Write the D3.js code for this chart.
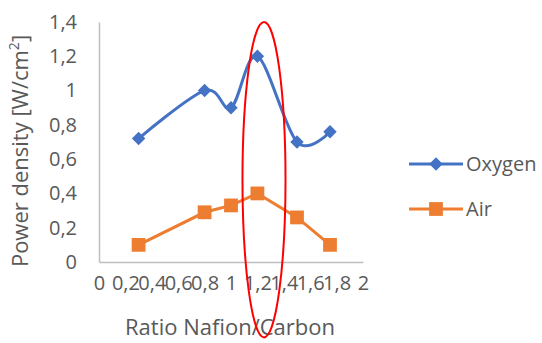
<!DOCTYPE html>
<html>
<head>
<meta charset="utf-8">
<script src="https://cdn.jsdelivr.net/npm/d3@7"></script>
<style>
  html, body { margin: 0; padding: 0; background: #fff; }
  svg text { font-family: "Open Sans", sans-serif; fill: #595959; }
</style>
</head>
<body>
<div id="chart"></div>
<script>
// Data
const ratios = [0.3, 0.8, 1.0, 1.2, 1.5, 1.75];
const oxygen = [0.72, 1.0, 0.9, 1.2, 0.7, 0.76];
const air = [0.1, 0.29, 0.33, 0.4, 0.26, 0.1];
const xTicks = [0, 0.2, 0.4, 0.6, 0.8, 1, 1.2, 1.4, 1.6, 1.8, 2];
const yTicks = [0, 0.2, 0.4, 0.6, 0.8, 1, 1.2, 1.4];
const seriesNames = ["Oxygen", "Air"];

// Highlight ellipse (data units)
const highlight = { cx: 1.25, cy: 0.48, rx: 0.163, top: 1.4, bottom: -0.44 };

const W = 542, H = 343;
const plot = { left: 99, right: 363, top: 22, bottom: 262 };

const COLORS = { Oxygen: "#4472C4", Air: "#ED7D31" };
const fmt = v => String(+v.toFixed(1)).replace(".", ",");

const svg = d3.select("#chart").append("svg")
  .attr("width", W).attr("height", H);

const x = d3.scaleLinear().domain([0, 2]).range([plot.left, plot.right]);
const y = d3.scaleLinear().domain([0, 1.4]).range([plot.bottom, plot.top]);

// axes
const xAxis = svg.append("g")
  .attr("transform", `translate(0,${plot.bottom})`)
  .call(d3.axisBottom(x).tickValues(xTicks).tickFormat(fmt).tickSize(0).tickPadding(14));
const yAxis = svg.append("g")
  .attr("transform", `translate(${plot.left},0)`)
  .call(d3.axisLeft(y).tickValues(yTicks).tickFormat(fmt).tickSize(0).tickPadding(22));

[xAxis, yAxis].forEach(g => {
  g.select(".domain").attr("stroke", "#bfbfbf").attr("stroke-width", 1.5);
  g.selectAll("text").attr("font-size", 20).attr("fill", "#595959")
    .attr("font-family", "'Open Sans', sans-serif");
});

// axis titles
svg.append("text")
  .attr("x", (plot.left + plot.right) / 2 - 1).attr("y", 335)
  .attr("text-anchor", "middle").attr("font-size", 22)
  .text("Ratio Nafion/Carbon");

const yt = svg.append("text")
  .attr("transform", `translate(28,${(27 + 275) / 2}) rotate(-90)`)
  .attr("text-anchor", "middle").attr("font-size", 22);
yt.append("tspan").text("Power density [W/cm");
yt.append("tspan").attr("font-size", 14).attr("dy", -9).text("2");
yt.append("tspan").attr("dy", 9).text("]");

// series
const oxyData = ratios.map((r, i) => ({ x: r, y: oxygen[i] }));
const airData = ratios.map((r, i) => ({ x: r, y: air[i] }));

const smooth = d3.line().x(d => x(d.x)).y(d => y(d.y)).curve(d3.curveCatmullRom.alpha(0));
const straight = d3.line().x(d => x(d.x)).y(d => y(d.y));

svg.append("path").datum(oxyData).attr("d", smooth)
  .attr("fill", "none").attr("stroke", COLORS.Oxygen).attr("stroke-width", 3);
svg.append("path").datum(airData).attr("d", straight)
  .attr("fill", "none").attr("stroke", COLORS.Air).attr("stroke-width", 3);

const diamond = d3.symbol().type(d3.symbolSquare).size(90);
const square = d3.symbol().type(d3.symbolSquare).size(190);

svg.append("g").selectAll("path").data(oxyData).join("path")
  .attr("d", diamond)
  .attr("transform", d => `translate(${x(d.x)},${y(d.y)}) rotate(45)`)
  .attr("fill", COLORS.Oxygen);
svg.append("g").selectAll("path").data(airData).join("path")
  .attr("d", square)
  .attr("transform", d => `translate(${x(d.x)},${y(d.y)})`)
  .attr("fill", COLORS.Air);

// highlight ellipse
svg.append("ellipse")
  .attr("cx", x(highlight.cx))
  .attr("cy", y((highlight.top + highlight.bottom) / 2))
  .attr("rx", x(highlight.cx + highlight.rx) - x(highlight.cx))
  .attr("ry", (y(highlight.bottom) - y(highlight.top)) / 2)
  .attr("fill", "none").attr("stroke", "#FF0000").attr("stroke-width", 2);

// legend
const legend = svg.append("g");
seriesNames.forEach((name, i) => {
  const ly = 164 + i * 45;
  legend.append("line")
    .attr("x1", 409).attr("x2", 463).attr("y1", ly).attr("y2", ly)
    .attr("stroke", COLORS[name]).attr("stroke-width", 3);
  legend.append("path")
    .attr("d", i === 0 ? diamond : square)
    .attr("transform", `translate(436,${ly})${i === 0 ? " rotate(45)" : ""}`)
    .attr("fill", COLORS[name]);
  legend.append("text")
    .attr("x", 466).attr("y", ly).attr("dy", "0.35em")
    .attr("font-size", 20).text(name);
});
</script>
</body>
</html>
